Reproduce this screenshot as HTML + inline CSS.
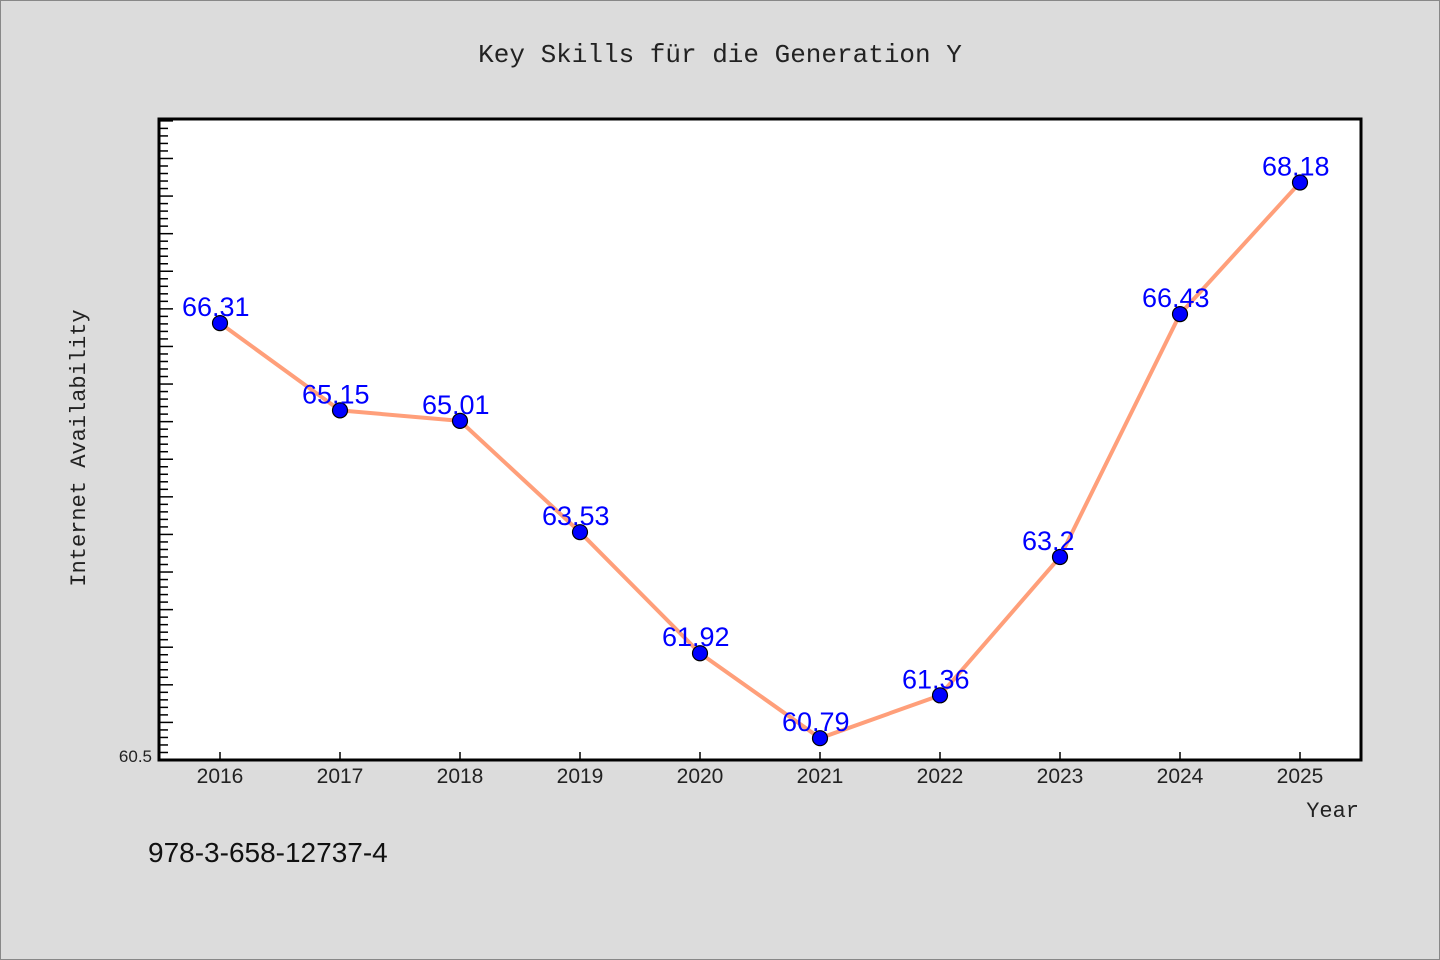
<!DOCTYPE html>
<html><head><meta charset="utf-8"><style>
body{margin:0;background:#dcdcdc;}
svg{display:block;font-family:"Liberation Mono","Noto Sans CJK SC",monospace;}
</style></head><body>
<svg id="c" width="1440" height="960" xmlns="http://www.w3.org/2000/svg">
<rect x="0.5" y="0.5" width="1439" height="959" fill="#dcdcdc" stroke="#888"/>
<text x="720" y="62" text-anchor="middle" font-size="26" fill="#222">Key Skills für die Generation Y</text>
<rect x="159" y="119" width="1202" height="641" fill="#fff"/>
<g id="ticks"></g>
<g id="series"></g>
<rect x="159" y="119" width="1202" height="641" fill="none" stroke="#000" stroke-width="3"/>
<text x="85" y="448" transform="rotate(-90 85 448)" text-anchor="middle" font-size="22" fill="#222">Internet Availability</text>
<text x="1359" y="817" text-anchor="end" font-size="22" fill="#222">Year</text>
<text x="152" y="762" text-anchor="end" font-size="17" fill="#222" font-family="Liberation Sans, sans-serif">60.5</text>
<text x="148" y="862" font-size="28" fill="#111" font-family="Liberation Sans, sans-serif">978-3-658-12737-4</text>
</svg>
<script>
const years=[2016,2017,2018,2019,2020,2021,2022,2023,2024,2025];
const values=[66.31,65.15,65.01,63.53,61.92,60.79,61.36,63.2,66.43,68.18];
const labels=["66.31","65.15","65.01","63.53","61.92","60.79","61.36","63.2","66.43","68.18"];
const yMin=60.5,yMax=69.025;
const NS="http://www.w3.org/2000/svg";
const X=i=>220+i*120;
const Y=v=>760-(v-yMin)/(yMax-yMin)*641;
function mk(t,a,p){const e=document.createElementNS(NS,t);for(const k in a)e.setAttribute(k,a[k]);p.appendChild(e);return e;}
const tg=document.getElementById('ticks'),sg=document.getElementById('series');
for(let k=0;;k++){const v=yMin+k*0.1;if(v>yMax)break;const y=Y(v);const major=k%5===0;
const l=mk('line',{x1:159,x2:159+(major?14:9),y1:y,y2:y,stroke:'#000','stroke-width':1.5},tg);

}
years.forEach((yr,i)=>{const x=X(i);
const l=mk('line',{x1:x,x2:x,y1:760,y2:752,stroke:'#000','stroke-width':1.5},tg);


const t=mk('text',{x:x,y:783,'text-anchor':'middle','font-size':21,fill:'#222','font-family':'Liberation Sans, sans-serif'},tg);
t.textContent=yr;

});
const line=mk('polyline',{points:values.map((v,i)=>X(i)+','+Y(v)).join(' '),fill:'none',stroke:'#ff9f7a','stroke-width':4,'stroke-linejoin':'round'},sg);


values.forEach((v,i)=>{
const c=mk('circle',{cx:X(i),cy:Y(v),r:7.5,fill:'#0000ff',stroke:'#000','stroke-width':1.2},sg);


const t=mk('text',{x:X(i)-38,y:Y(v)-7,'font-size':27,fill:'#0000ff','font-family':'Liberation Sans, sans-serif'},sg);
t.textContent=labels[i];

});
</script>
</body></html>
